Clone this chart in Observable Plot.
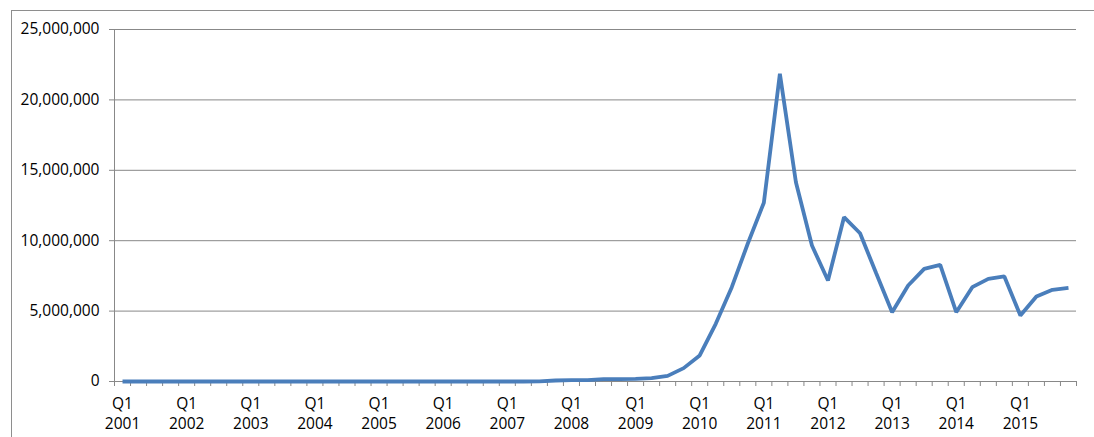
<!DOCTYPE html>
<html>
<head>
<meta charset="utf-8">
<script src="https://cdn.jsdelivr.net/npm/d3@7"></script>
<script src="https://cdn.jsdelivr.net/npm/@observablehq/plot@0.6"></script>
<style>
  html, body { margin: 0; padding: 0; background: #fff; }
  #wrap { position: relative; width: 1094px; height: 437px; overflow: hidden; }
  #frame { position: absolute; left: 11px; top: 10px; width: 1200px; height: 600px; border: 1px solid #8e8e8e; }
  #chart { position: absolute; left: 0; top: 0; }
  #chart svg text { font-size: 15.5px; }
</style>
</head>
<body>
<div id="wrap"><div id="frame"></div><div id="chart"></div></div>
<script>
const years = [2001, 2002, 2003, 2004, 2005, 2006, 2007, 2008, 2009, 2010, 2011, 2012, 2013, 2014, 2015];
const quarterNames = ["Q1", "Q2", "Q3", "Q4"];
const values = [
  0, 0, 0, 0,                       // 2001
  0, 0, 0, 0,                       // 2002
  0, 0, 0, 0,                       // 2003
  0, 0, 0, 0,                       // 2004
  0, 0, 0, 0,                       // 2005
  0, 0, 0, 0,                       // 2006
  0, 0, 10000, 70000,               // 2007
  100000, 100000, 170000, 170000,   // 2008
  180000, 240000, 400000, 950000,   // 2009
  1850000, 4100000, 6700000, 9800000,      // 2010
  12700000, 21850000, 14150000, 9660000,   // 2011
  7170000, 11670000, 10530000, 7700000,    // 2012
  4920000, 6820000, 8000000, 8280000,      // 2013
  4920000, 6700000, 7290000, 7460000,      // 2014
  4690000, 6040000, 6510000, 6650000       // 2015
];
const yTicks = [0, 5000000, 10000000, 15000000, 20000000, 25000000];

const categories = years.flatMap(y => quarterNames.map(q => ({q, y})));
const data = values.map((v, i) => ({i, q: categories[i].q, y: categories[i].y, v}));
const labelIdx = data.filter(d => d.q === "Q1").map(d => d.i);

const chart = Plot.plot({
  width: 1094,
  height: 437,
  marginLeft: 114,
  marginRight: 18,
  marginTop: 29,
  marginBottom: 56,
  style: { fontFamily: "'Open Sans', 'Liberation Sans', Arial, sans-serif", fontSize: "15.5px", color: "#000", background: "transparent" },
  x: { type: "linear", domain: [0, categories.length] },
  y: { domain: [0, 25000000] },
  marks: [
    Plot.gridY(yTicks, { stroke: "#888", strokeOpacity: 1, strokeWidth: 1 }),
    Plot.ruleX([0], { y1: 0, y2: 25000000, stroke: "#888", strokeWidth: 1 }),
    Plot.axisY({ ticks: yTicks, tickFormat: d3.format(","), tickSize: 5, tickPadding: 10, stroke: "#888", label: null, fill: "#000", fontSize: 15.5 }),
    Plot.axisX({ ticks: d3.range(0, categories.length + 1), tickSize: 5, tickFormat: () => "", stroke: "#888", label: null }),
    Plot.axisX({ ticks: labelIdx.map(i => i + 0.5), tickSize: 0, tickPadding: 13.5,
      tickFormat: x => { const c = categories[Math.floor(x)]; return c.q + "\n" + c.y; },
      label: null, fill: "#000", fontSize: 15.5, lineHeight: 1.29 }),
    Plot.lineY(data, { x: d => d.i + 0.5, y: "v", stroke: "#4a7ebb", strokeWidth: 3.8, strokeLinejoin: "miter", strokeLinecap: "butt" })
  ]
});
document.getElementById("chart").appendChild(chart);
</script>
</body>
</html>
